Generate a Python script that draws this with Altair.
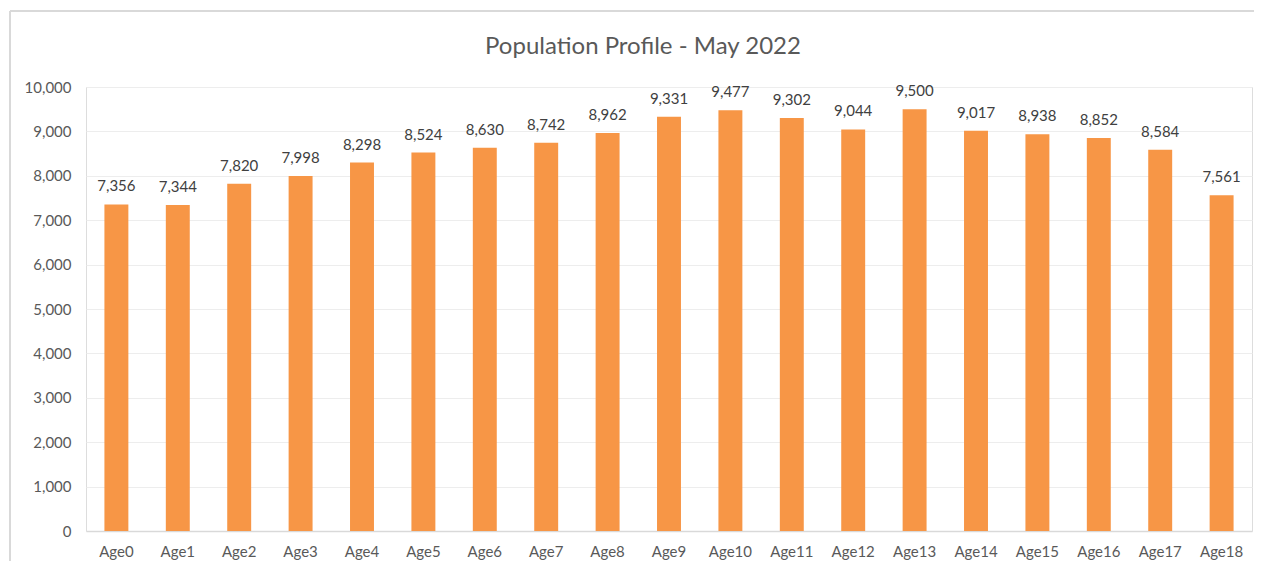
import altair as alt
import pandas as pd

ages = ["Age0", "Age1", "Age2", "Age3", "Age4", "Age5", "Age6", "Age7", "Age8", "Age9",
        "Age10", "Age11", "Age12", "Age13", "Age14", "Age15", "Age16", "Age17", "Age18"]
population = [7356, 7344, 7820, 7998, 8298, 8524, 8630, 8742, 8962, 9331,
              9477, 9302, 9044, 9500, 9017, 8938, 8852, 8584, 7561]
title_text = "Population Profile - May 2022"

df = pd.DataFrame({"age": ages, "population": population})

FONT = "Lato"
W, H = 1166, 444

x = alt.X("age:N", sort=ages, title=None,
          scale=alt.Scale(paddingInner=0.61, paddingOuter=0.3),
          axis=alt.Axis(labelAngle=0, labelFont=FONT, labelFontSize=15, labelColor="#595959",
                        labelPadding=13, ticks=False, domainColor="#D9D9D9", domainWidth=1.5))
y = alt.Y("population:Q", title=None,
          scale=alt.Scale(domain=[0, 10000], nice=False),
          axis=alt.Axis(values=list(range(0, 10001, 1000)), format=",.0f", labelFont=FONT,
                        labelFontSize=15, labelColor="#595959", labelPadding=15, ticks=False,
                        domain=False, gridColor="#EDEDED", gridWidth=1.2))

frame_top = alt.Chart(df).mark_rule(stroke="#D9D9D9", strokeWidth=2).encode(
    x=alt.value(-76), x2=alt.value(1180), y=alt.value(-76)
)
frame_left = alt.Chart(df).mark_rule(stroke="#D9D9D9", strokeWidth=2).encode(
    x=alt.value(-76), y=alt.value(-76), y2=alt.value(480)
)

bars = alt.Chart(df).mark_bar(color="#F79646").encode(x=x, y=y)
labels = alt.Chart(df).mark_text(dy=-10, baseline="bottom", font=FONT, fontSize=15,
                                 color="#404040").encode(
    x=alt.X("age:N", sort=ages),
    y="population:Q",
    text=alt.Text("population:Q", format=",.0f"),
)

chart = alt.layer(frame_top, frame_left, bars, labels).properties(
    width=W, height=H,
    title=alt.TitleParams(title_text, font=FONT, fontSize=24, fontWeight="normal",
                          color="#595959", anchor="middle", dx=-26, dy=73, offset=24),
    autosize=alt.AutoSizeParams(type="none"),
    padding={"left": 78, "top": 79, "right": 2, "bottom": 30},
).configure_view(strokeWidth=0, stroke="transparent").configure(background="white")

chart.save("out.html", embed_options={"renderer": "svg", "actions": False})
